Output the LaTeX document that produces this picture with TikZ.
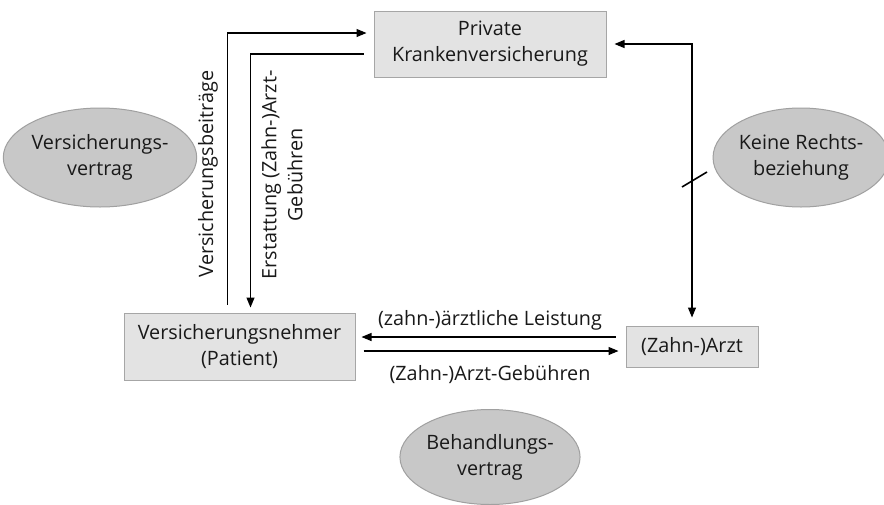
\documentclass[tikz,border=0pt]{standalone}
\usepackage{fontspec}
\setmainfont{Open Sans}
\usetikzlibrary{arrows.meta,shapes.geometric,positioning}
\definecolor{boxfill}{HTML}{E3E3E3}
\definecolor{boxline}{HTML}{A6A6A6}
\definecolor{ellfill}{HTML}{C8C8C8}
\definecolor{ellline}{HTML}{A0A0A0}
\begin{document}
\begin{tikzpicture}[x=1pt,y=-1pt,
  txt/.style={font=\fontsize{19.8}{26}\selectfont, text=black!90, align=center, inner sep=0pt},
  box/.style={txt, rectangle, draw=boxline, fill=boxfill, line width=1pt},
  oval/.style={txt, ellipse, draw=ellline, fill=ellfill, line width=1pt, minimum width=174pt, minimum height=99pt, inner sep=0pt},
  arr/.style={line width=1.2pt, -{Triangle[length=10pt,width=8pt]}},
  dbl/.style={line width=1.2pt, {Triangle[length=10pt,width=8pt]}-{Triangle[length=10pt,width=8pt]}}
]
\useasboundingbox (0,0) rectangle (884,504);
\fill[white] (0,0) rectangle (884,504);

% boxes
\node[box, minimum width=232pt, minimum height=66pt] (pkv) at (490,44) {Private\\Krankenversicherung};
\node[box, minimum width=231pt, minimum height=67pt] (vn) at (239.5,346.5) {Versicherungsnehmer\\(Patient)};
\node[box, minimum width=132pt, minimum height=41pt] (arzt) at (692,346.5) {(Zahn-)Arzt};

% ellipses
\node[oval] (vv) at (100,157.5) {Versicherungs-\\vertrag};
\node[oval] (kr) at (801,157.5) {Keine Rechts-\\beziehung};
\node[oval, minimum height=95pt] (bv) at (490,457) {Behandlungs-\\vertrag};

% insurance premiums
\draw[arr, shorten >=7pt] ([xshift=104pt,yshift=8pt]vn.north west) |- ([yshift=11pt]pkv.west);
\node[txt, rotate=90] (beitr) at (208,174) {Versicherungsbeiträge};

% reimbursement
\draw[arr] ([xshift=-10pt,yshift=-10pt]pkv.west) -| ([xshift=127pt,yshift=5pt]vn.north west);
\node[txt, rotate=90] (erst) at (282,175) {Erstattung (Zahn-)Arzt-\\Gebühren};

% no legal relationship
\draw[dbl, shorten <=8pt, shorten >=8pt] (pkv.east) -| (arzt.north);
\coordinate (s1) at (682,187);
\coordinate (s2) at (707,172);
\draw[line width=1.6pt] (s1) -- (s2);

% treatment
\draw[arr, shorten >=6pt] ([xshift=-10pt,yshift=9.5pt]arzt.west) -- ([yshift=9.5pt]vn.east);
\node[txt] (leist) at (490,320) {(zahn-)ärztliche Leistung};
\draw[arr, shorten <=8pt, shorten >=7pt] ([yshift=-4.5pt]vn.east) -- ([yshift=-4.5pt]arzt.west);
\node[txt] (geb) at (490,375) {(Zahn-)Arzt-Gebühren};
\end{tikzpicture}
\end{document}
